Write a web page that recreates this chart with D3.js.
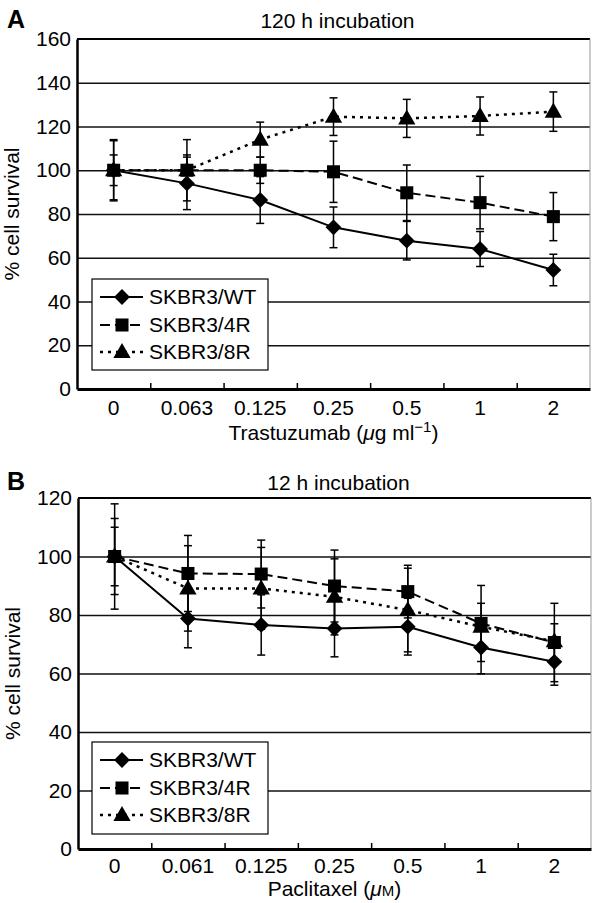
<!DOCTYPE html>
<html><head><meta charset="utf-8">
<script src="https://cdnjs.cloudflare.com/ajax/libs/d3/7.8.5/d3.min.js"></script>
<style>
html,body{margin:0;padding:0;background:#fff;}
svg{display:block;font-family:"Liberation Sans",Arial,Helvetica,sans-serif;}
</style></head>
<body>
<script>
// ---------- DATA ----------
const seriesNames = ["SKBR3/WT", "SKBR3/4R", "SKBR3/8R"];

const categoriesA = ["0", "0.063", "0.125", "0.25", "0.5", "1", "2"];
const wtA     = [100, 94, 86.4, 73.9, 67.8, 64, 54.4];
const wtErrA  = [14, 12, 10.7, 9.3, 8.8, 8, 7.2];
const r4A     = [100, 100, 100, 99.3, 89.7, 85.2, 78.8];
const r4ErrA  = [13.5, 14, 6, 14, 12.7, 12, 11];
const r8A     = [100, 100, 114, 124.5, 123.7, 124.8, 126.8];
const r8ErrA  = [7, 7, 8, 8.6, 8.7, 8.7, 9];
const yTicksA = [0, 20, 40, 60, 80, 100, 120, 140, 160];

const categoriesB = ["0", "0.061", "0.125", "0.25", "0.5", "1", "2"];
const wtB     = [100, 78.8, 76.6, 75.4, 76, 68.9, 64];
const wtErrB  = [18, 10, 10.3, 9.7, 9.7, 9, 8];
const r4B     = [100, 94.2, 94, 89.9, 88, 77.1, 70.6];
const r4ErrB  = [13, 13, 11.6, 12.3, 9, 13, 13.4];
const r8B     = [100, 89.1, 89.1, 86.2, 81.7, 76, 71];
const r8ErrB  = [10, 14.6, 14, 13, 14.3, 8, 6];
const yTicksB = [0, 20, 40, 60, 80, 100, 120];

// ---------- DRAW ----------
const svg = d3.select("body").append("svg").attr("width", 592).attr("height", 903);
const FS = 21;
const FF = "Liberation Sans, Arial, sans-serif";

const styles = [
  {dash: null, width: 2, marker: d3.symbolDiamond2, msize: 160},
  {dash: "10,5", width: 2, marker: d3.symbolSquare, msize: 170},
  {dash: "3,5", width: 2.5, marker: d3.symbolTriangle, msize: 130}
];

function drawPanel(cfg) {
  const {letter, title, xTitle, cats, series, errs, yTicks, x0, x1, y0, y1, tickPad, titleY, xTitleY, legendBox} = cfg;
  const w = x1 - x0, h = y1 - y0;
  const g = svg.append("g").attr("transform", `translate(${x0},${y0})`);
  const x = d3.scaleBand().domain(cats).range([0, w]).padding(0);
  const y = d3.scaleLinear().domain([0, d3.max(yTicks)]).range([h, 0]);

  // gridlines
  const grid = g.append("g").call(d3.axisLeft(y).tickValues(yTicks.slice(1, -1)).tickSize(-w).tickFormat(""));
  grid.select(".domain").remove();
  grid.selectAll("line").attr("stroke", "#111").attr("stroke-width", 1.3);

  // frame: top thick, right thin gray
  g.append("line").attr("x1", 0).attr("x2", w).attr("y1", y(d3.max(yTicks))).attr("y2", y(d3.max(yTicks)))
    .attr("stroke", "#000").attr("stroke-width", 2.2);
  g.append("line").attr("x1", w).attr("x2", w).attr("y1", 0).attr("y2", h)
    .attr("stroke", "#999").attr("stroke-width", 1);

  // y axis
  const ya = g.append("g").call(d3.axisLeft(y).tickValues(yTicks).tickSize(0).tickPadding(6));
  ya.select(".domain").attr("stroke", "#000").attr("stroke-width", 2.5);
  ya.selectAll("text").attr("font-size", FS).attr("fill", "#000").attr("font-family", FF);

  // x axis: labels
  const xa = g.append("g").attr("transform", `translate(0,${h})`)
    .call(d3.axisBottom(x).tickSize(0).tickPadding(tickPad));
  xa.select(".domain").remove();
  xa.selectAll("text").attr("font-size", FS).attr("fill", "#000").attr("font-family", FF);
  // x axis: line + inner tick marks at band boundaries
  const bnd = d3.scaleLinear().domain([0, cats.length]).range([0, w]);
  const xb = g.append("g").attr("transform", `translate(0,${h})`)
    .call(d3.axisBottom(bnd).tickValues(d3.range(1, cats.length)).tickSize(-6).tickSizeOuter(0).tickFormat(""));
  xb.select(".domain").attr("stroke", "#000").attr("stroke-width", 2.8);
  xb.selectAll(".tick line").attr("stroke", "#000").attr("stroke-width", 1.5);

  const cx = c => x(c) + x.bandwidth() / 2;

  // error bars
  series.forEach((vals, si) => {
    const eg = g.append("g");
    vals.forEach((v, i) => {
      const e = errs[si][i];
      const xc = cx(cats[i]);
      eg.append("line").attr("x1", xc).attr("x2", xc).attr("y1", y(v + e)).attr("y2", y(v - e))
        .attr("stroke", "#000").attr("stroke-width", 1.5);
      [v + e, v - e].forEach(t => {
        eg.append("line").attr("x1", xc - 4).attr("x2", xc + 4).attr("y1", y(t)).attr("y2", y(t))
          .attr("stroke", "#000").attr("stroke-width", 1.5);
      });
    });
  });

  // lines
  series.forEach((vals, si) => {
    const line = d3.line().x((d, i) => cx(cats[i])).y(d => y(d));
    g.append("path").datum(vals).attr("d", line).attr("fill", "none")
      .attr("stroke", "#000").attr("stroke-width", styles[si].width)
      .attr("stroke-dasharray", styles[si].dash);
  });
  // markers
  series.forEach((vals, si) => {
    const sym = d3.symbol().type(styles[si].marker).size(styles[si].msize);
    g.append("g").selectAll("path").data(vals).join("path")
      .attr("d", sym).attr("fill", "#000")
      .attr("transform", (d, i) => `translate(${cx(cats[i])},${y(d) + (si === 2 ? 1 : 0)})`);
  });

  // legend
  const lg = svg.append("g").attr("transform", `translate(${legendBox.x},${legendBox.y})`);
  lg.append("rect").attr("width", legendBox.w).attr("height", legendBox.h)
    .attr("fill", "#fff").attr("stroke", "#000").attr("stroke-width", 1.2);
  const rows = [18, 46, 73];
  seriesNames.forEach((name, si) => {
    const ry = rows[si];
    lg.append("line").attr("x1", 8).attr("x2", 51).attr("y1", ry).attr("y2", ry)
      .attr("stroke", "#000").attr("stroke-width", styles[si].width)
      .attr("stroke-dasharray", styles[si].dash);
    lg.append("path").attr("d", d3.symbol().type(styles[si].marker).size(styles[si].msize)())
      .attr("transform", `translate(30,${ry + (si === 2 ? 1 : 0)})`).attr("fill", "#000");
    lg.append("text").attr("x", 57).attr("y", ry).attr("dy", "0.35em")
      .attr("font-size", FS).text(name);
  });

  // titles
  svg.append("text").attr("x", 7).attr("y", titleY).attr("font-size", 25).attr("font-weight", "bold").text(letter);
  svg.append("text").attr("x", x0 + w / 2 + 4).attr("y", titleY).attr("text-anchor", "middle")
    .attr("font-size", FS).text(title);
  // y title
  svg.append("text").attr("transform", `translate(${x0 - 58},${y0 + h / 2}) rotate(-90)`)
    .attr("text-anchor", "middle").attr("font-size", FS).text("% cell survival");
  // x title
  const xt = svg.append("text").attr("x", x0 + w / 2).attr("y", xTitleY).attr("text-anchor", "middle").attr("font-size", FS);
  xTitle(xt);
}

drawPanel({
  letter: "A", title: "120 h incubation",
  xTitle: t => {
    t.append("tspan").text("Trastuzumab (");
    t.append("tspan").attr("font-style", "italic").text("μ");
    t.append("tspan").text("g ml");
    t.append("tspan").attr("dy", -8).attr("font-size", 15).text("−1");
    t.append("tspan").attr("dy", 8).text(")");
  },
  cats: categoriesA, series: [wtA, r4A, r8A], errs: [wtErrA, r4ErrA, r8ErrA], yTicks: yTicksA,
  x0: 77, x1: 590, y0: 39, y1: 389, tickPad: 11, titleY: 28, xTitleY: 440,
  legendBox: {x: 92, y: 279, w: 176, h: 91}
});

drawPanel({
  letter: "B", title: "12 h incubation",
  xTitle: t => {
    t.append("tspan").text("Paclitaxel (");
    t.append("tspan").attr("font-style", "italic").text("μ");
    t.append("tspan").attr("font-size", 15).text("M");
    t.append("tspan").text(")");
  },
  cats: categoriesB, series: [wtB, r4B, r8B], errs: [wtErrB, r4ErrB, r8ErrB], yTicks: yTicksB,
  x0: 78, x1: 591, y0: 498, y1: 849, tickPad: 9, titleY: 490, xTitleY: 896,
  legendBox: {x: 92, y: 742, w: 176, h: 92}
});
</script>
</body></html>
